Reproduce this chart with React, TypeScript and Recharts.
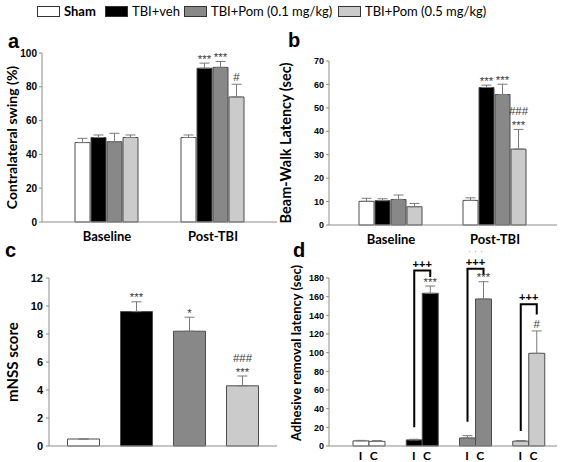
import React from "react";
import { BarChart, Bar, XAxis, YAxis, ErrorBar, Cell, LabelList } from "recharts";

const LABEL_FONT = "Lato, 'Open Sans', sans-serif";
const TICK_FONT = "'Liberation Sans', Arial, sans-serif";
const AXIS = "#8c8c8c";
const EDGE = "#4d4d4d";
const ERR = "#7a7a7a";
const SIG = "#3a3a3a";

const SERIES = [
  { key: "sham", name: "Sham", fill: "#ffffff" },
  { key: "veh", name: "TBI+veh", fill: "#000000" },
  { key: "p01", name: "TBI+Pom (0.1 mg/kg)", fill: "#888888" },
  { key: "p05", name: "TBI+Pom (0.5 mg/kg)", fill: "#cbcbcb" },
];

const timepoints = ["Baseline", "Post-TBI"];

// (a) contralateral swing (%), mean and upper SEM per timepoint
const swingSham = [47, 50];
const swingShamSem = [2.5, 1.5];
const swingVeh = [50, 91];
const swingVehSem = [1.5, 3];
const swingPom01 = [47.5, 91.5];
const swingPom01Sem = [5, 3.5];
const swingPom05 = [50, 74];
const swingPom05Sem = [1.5, 7.5];
const swingSig = [
  ["", "", "", ""],
  ["", "***", "***", "#"],
];
const swingTicks = [0, 20, 40, 60, 80, 100];

// (b) beam-walk latency (sec)
const beamSham = [10.1, 10.5];
const beamShamSem = [1.3, 1.1];
const beamVeh = [10.4, 58.7];
const beamVehSem = [0.8, 1];
const beamPom01 = [10.9, 55.7];
const beamPom01Sem = [1.9, 4.4];
const beamPom05 = [7.8, 32.4];
const beamPom05Sem = [1.4, 8.4];
const beamSig = [
  ["", "", "", ""],
  ["", "***", "***", "###\n***"],
];
const beamTicks = [0, 10, 20, 30, 40, 50, 60, 70];

// (c) mNSS score, one bar per group
const mnssMean = [0.5, 9.6, 8.2, 4.3];
const mnssSem = [0, 0.7, 1.0, 0.7];
const mnssSig = ["", "***", "*", "###\n***"];
const mnssTicks = [0, 2, 4, 6, 8, 10, 12];

// (d) adhesive removal latency (sec), ipsilateral (I) and contralateral (C)
const adhI = [5.5, 6.5, 8.6, 5.2];
const adhISem = [0.5, 0.7, 2.5, 0.7];
const adhC = [5, 163.6, 157.5, 99.3];
const adhCSem = [0.8, 7.8, 18.5, 24];
const adhSig = ["", "***", "***", "#"];
const adhBracketTop = [0, 188, 190, 152];
const adhBracketLowI = [0, 20, 26, 16];
const adhBracketLowC = [0, 181, 184, 141];
const adhBracketSig = ["", "+++", "+++", "+++"];
const adhExtraSig = ["", "", "· · ·", ""];
const adhTicks = [0, 20, 40, 60, 80, 100, 120, 140, 160, 180];

function groupedRows(means: number[][], sems: number[][], sigs: string[][]) {
  return timepoints.map((t, i) => {
    const row: any = { t };
    SERIES.forEach((s, j) => {
      row[s.key] = means[j][i];
      row[s.key + "Err"] = [0, sems[j][i]];
      row[s.key + "Sig"] = sigs[i][j];
    });
    return row;
  });
}

const swingRows = groupedRows(
  [swingSham, swingVeh, swingPom01, swingPom05],
  [swingShamSem, swingVehSem, swingPom01Sem, swingPom05Sem],
  swingSig
);
const beamRows = groupedRows(
  [beamSham, beamVeh, beamPom01, beamPom05],
  [beamShamSem, beamVehSem, beamPom01Sem, beamPom05Sem],
  beamSig
);
const mnssRows = SERIES.map((s, i) => ({
  g: s.name,
  v: mnssMean[i],
  vErr: [0, mnssSem[i]],
  vSig: mnssSig[i],
}));
const adhRows = SERIES.map((s, i) => ({
  g: s.name,
  i: adhI[i],
  iErr: [0, adhISem[i]],
  c: adhC[i],
  cErr: [0, adhCSem[i]],
  cSig: adhSig[i],
}));

// stacked significance marks above the error bar, pixel scale taken from the bar itself
function sigLines(cx: number, errTop: number, text: string) {
  const lines = text.split("\n");
  return lines.map((ln, i) => {
    const center = errTop - 7 - (lines.length - 1 - i) * 11;
    const base = center + (ln.startsWith("#") ? 4 : 6.6);
    return (
      <text key={i} x={cx} y={base} textAnchor="middle" fontSize={11.5} fill={SIG} fontFamily={TICK_FONT}>
        {ln}
      </text>
    );
  });
}

function sigContent(rows: any[], key: string) {
  return (props: any) => {
    const vb = props.viewBox || props;
    const row = rows[props.index];
    const text = row && row[key + "Sig"];
    if (!text) return null;
    const k = Math.abs(vb.height) / row[key];
    const errTop = vb.y - row[key + "Err"][1] * k;
    return <g>{sigLines(vb.x + vb.width / 2, errTop, text)}</g>;
  };
}

function adhContent(props: any) {
  const vb = props.viewBox || props;
  const idx = props.index;
  const row = adhRows[idx];
  const k = Math.abs(vb.height) / row.c;
  const y0 = vb.y + Math.abs(vb.height);
  const yOf = (v: number) => y0 - v * k;
  const cx = vb.x + vb.width / 2;
  const ix = vb.x - vb.width / 2;
  const parts: any[] = [];
  if (row.cSig) parts.push(...sigLines(cx, yOf(row.c + row.cErr[1]), row.cSig));
  if (adhBracketTop[idx]) {
    const top = yOf(adhBracketTop[idx]);
    parts.push(
      <path
        key="br"
        d={`M${ix},${yOf(adhBracketLowI[idx])}V${top}H${cx}V${yOf(adhBracketLowC[idx])}`}
        fill="none"
        stroke="#000"
        strokeWidth={2}
      />
    );
    parts.push(
      <text key="pl" x={(ix + cx) / 2} y={top - 3} textAnchor="middle" fontSize={11} fontWeight="bold" fill="#000" fontFamily={TICK_FONT}>
        {adhBracketSig[idx]}
      </text>
    );
    if (adhExtraSig[idx]) {
      parts.push(
        <text key="ex" x={(ix + cx) / 2} y={top - 14} textAnchor="middle" fontSize={10} fill="#aaa" fontFamily={TICK_FONT}>
          {adhExtraSig[idx]}
        </text>
      );
    }
  }
  return <g>{parts}</g>;
}

const yTick = (size: number) => ({ fontSize: size, fontWeight: "bold", fill: "#000", fontFamily: TICK_FONT });

function yTitle(value: string, offset: number, size: number, shiftUp = 0) {
  return {
    value,
    angle: -90,
    position: "insideLeft" as const,
    offset,
    dy: -shiftUp,
    style: { textAnchor: "middle", fontSize: size, fontWeight: "bold", fill: "#000", fontFamily: LABEL_FONT },
  };
}

function IcTick(props: any) {
  const { x, y } = props;
  return (
    <g fontFamily={LABEL_FONT} fontSize={12} fontWeight="bold" fill="#000">
      <text x={x - 8} y={y + 6} textAnchor="middle">I</text>
      <text x={x + 5} y={y + 6} textAnchor="middle">C</text>
    </g>
  );
}

function GroupedPanel(p: {
  rows: any[];
  width: number;
  height: number;
  margin: any;
  ticks: number[];
  tickSize: number;
  title: string;
  titleOffset: number;
  titleSize: number;
  padding: any;
  catGap: number;
}) {
  return (
    <BarChart width={p.width} height={p.height} data={p.rows} margin={p.margin} barCategoryGap={p.catGap} barGap={1}>
      <XAxis
        dataKey="t"
        height={22}
        padding={p.padding}
        axisLine={{ stroke: AXIS }}
        tickLine={false}
        tick={{ fontSize: 13, fontWeight: "bold", fill: "#000", fontFamily: LABEL_FONT }}
        tickMargin={4}
        interval={0}
      />
      <YAxis
        width={30}
        domain={[p.ticks[0], p.ticks[p.ticks.length - 1]]}
        ticks={p.ticks}
        interval={0}
        axisLine={{ stroke: AXIS }}
        tickLine={{ stroke: AXIS }}
        tickSize={3}
        tickMargin={2}
        tick={yTick(p.tickSize)}
        label={yTitle(p.title, p.titleOffset, p.titleSize)}
      />
      {SERIES.map((s) => (
        <Bar key={s.key} dataKey={s.key} fill={s.fill} stroke={EDGE} strokeWidth={1} isAnimationActive={false}>
          <ErrorBar dataKey={s.key + "Err"} width={5} stroke={ERR} strokeWidth={1} direction="y" />
          <LabelList content={sigContent(p.rows, s.key)} />
        </Bar>
      ))}
    </BarChart>
  );
}

const panelLetter = (ch: string, left: number, top: number) => (
  <span
    style={{
      position: "absolute",
      left,
      top,
      fontFamily: TICK_FONT,
      fontWeight: "bold",
      fontSize: 20,
      lineHeight: 1,
    }}
  >
    {ch}
  </span>
);

const legendLefts = [37, 105, 184, 338];

export default function App() {
  return (
    <div style={{ position: "absolute", left: 0, top: 0, width: 567, height: 462, background: "#fff", overflow: "hidden" }}>
      {SERIES.map((s, i) => (
        <div
          key={s.key}
          style={{
            position: "absolute",
            left: legendLefts[i],
            top: 3,
            display: "flex",
            alignItems: "center",
            fontFamily: LABEL_FONT,
            fontSize: 13,
            fontWeight: i === 0 ? "bold" : "normal",
            whiteSpace: "nowrap",
          }}
        >
          <span style={{ display: "inline-block", width: 21, height: 9, background: s.fill, border: `1px solid #333`, marginRight: 4 }} />
          {s.name}
        </div>
      ))}

      <div style={{ position: "absolute", left: 0, top: 40 }}>
        <GroupedPanel
          rows={swingRows}
          width={285}
          height={210}
          margin={{ top: 13, right: 8, bottom: 6, left: 12 }}
          ticks={swingTicks}
          tickSize={10}
          title="Contralateral swing (%)"
          titleOffset={0}
          titleSize={14}
          padding={{ left: 12, right: 11 }}
          catGap={21}
        />
      </div>
      <div style={{ position: "absolute", left: 274, top: 40 }}>
        <GroupedPanel
          rows={beamRows}
          width={293}
          height={210}
          margin={{ top: 21, right: 10, bottom: 3, left: 25 }}
          ticks={beamTicks}
          tickSize={9}
          title="Beam-Walk Latency (sec)"
          titleOffset={-13}
          titleSize={14.5}
          padding={{ left: 10, right: 10 }}
          catGap={20}
        />
      </div>

      <div style={{ position: "absolute", left: 0, top: 255 }}>
        <BarChart width={285} height={207} data={mnssRows} margin={{ top: 23, right: 8, bottom: 15, left: 19 }} barCategoryGap={10.5}>
          <XAxis dataKey="g" height={1} padding={{ left: 8, right: 8 }} axisLine={{ stroke: AXIS }} tickLine={false} tick={false} />
          <YAxis
            width={30}
            domain={[0, 12]}
            ticks={mnssTicks}
            interval={0}
            axisLine={{ stroke: AXIS }}
            tickLine={{ stroke: AXIS }}
            tickSize={3}
            tickMargin={3}
            tick={yTick(11)}
            label={yTitle("mNSS score", -6, 15)}
          />
          <Bar dataKey="v" stroke={EDGE} strokeWidth={1} isAnimationActive={false}>
            {mnssRows.map((r, i) => (
              <Cell key={r.g} fill={SERIES[i].fill} />
            ))}
            <ErrorBar dataKey="vErr" width={5} stroke={ERR} strokeWidth={1} direction="y" />
            <LabelList content={sigContent(mnssRows, "v")} />
          </Bar>
        </BarChart>
      </div>

      <div style={{ position: "absolute", left: 280, top: 240 }}>
        <BarChart width={287} height={222} data={adhRows} margin={{ top: 38, right: 10, bottom: 2, left: 19 }} barCategoryGap={11} barGap={0}>
          <XAxis
            dataKey="g"
            height={14}
            padding={{ left: 13, right: 2 }}
            axisLine={{ stroke: AXIS }}
            tickLine={false}
            tick={<IcTick />}
            interval={0}
          />
          <YAxis
            width={30}
            domain={[0, 180]}
            ticks={adhTicks}
            interval={0}
            axisLine={{ stroke: AXIS }}
            tickLine={{ stroke: AXIS }}
            tickSize={3}
            tickMargin={2}
            tick={yTick(9)}
            label={yTitle("Adhesive removal latency (sec)", -2.5, 13, 9)}
          />
          <Bar dataKey="i" stroke={EDGE} strokeWidth={1} isAnimationActive={false}>
            {adhRows.map((r, i) => (
              <Cell key={r.g} fill={SERIES[i].fill} />
            ))}
            <ErrorBar dataKey="iErr" width={5} stroke={ERR} strokeWidth={1} direction="y" />
          </Bar>
          <Bar dataKey="c" stroke={EDGE} strokeWidth={1} isAnimationActive={false}>
            {adhRows.map((r, i) => (
              <Cell key={r.g} fill={SERIES[i].fill} />
            ))}
            <ErrorBar dataKey="cErr" width={5} stroke={ERR} strokeWidth={1} direction="y" />
            <LabelList content={adhContent} />
          </Bar>
        </BarChart>
      </div>

      {panelLetter("a", 8, 31)}
      {panelLetter("b", 288, 30)}
      {panelLetter("c", 5, 240)}
      {panelLetter("d", 293, 240)}
    </div>
  );
}
